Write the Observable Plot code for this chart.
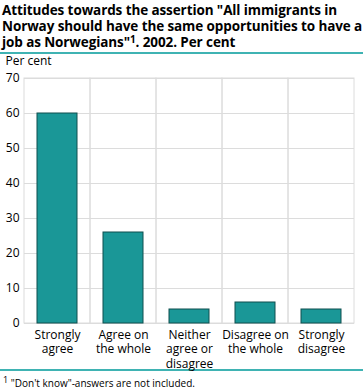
<!DOCTYPE html>
<html>
<head>
<meta charset="utf-8">
<script src="https://cdn.jsdelivr.net/npm/d3@7"></script>
<script src="https://cdn.jsdelivr.net/npm/@observablehq/plot@0.6"></script>
<style>
  body { margin: 0; background: #fff; font-family: "Open Sans", sans-serif; }
  #wrap { width: 363px; position: relative; }
  #title { font-weight: bold; font-size: 13.5px; line-height: 16px; color: #000; padding: 2px 0 2px 2px; height: 48px; border-bottom: 2px solid #3fb3b3; box-sizing: content-box; letter-spacing: -0.1px; }
  #title sup { font-size: 10px; line-height: 0; vertical-align: 4px; }
  #foot { border-top: 2px solid #3fb3b3; font-size: 10px; color: #000; padding: 2px 0 0 3px; }
  #foot sup { font-size: 9px; }
  svg { display: block; }
</style>
</head>
<body>
<div id="wrap">
  <div id="title">Attitudes towards the assertion "All immigrants in<br>Norway should have the same opportunities to have a<br>job as Norwegians"<sup>1</sup>. 2002. Per cent</div>
  <div id="chart"></div>
  <div id="foot"><sup>1</sup> "Don't know"-answers are not included.</div>
</div>
<script>
const categories = ["Strongly\nagree", "Agree on\nthe whole", "Neither\nagree or\ndisagree", "Disagree on\nthe whole", "Strongly\ndisagree"];
const values = [60, 26, 4, 6, 4];
const yTicks = [0, 10, 20, 30, 40, 50, 60, 70];

const data = categories.map((c, i) => ({category: c, value: values[i]}));

const chart = Plot.plot({
  width: 363,
  height: 315,
  marginTop: 24,
  marginLeft: 24,
  marginRight: 9,
  marginBottom: 46,
  style: { fontFamily: "Open Sans, sans-serif", fontSize: "12px", color: "#000", overflow: "visible" },
  x: { domain: categories, padding: 0, label: null },
  y: { domain: [0, 70], ticks: yTicks, label: null },
  marks: [
    Plot.ruleY(yTicks, { stroke: "#dcdcdc", strokeWidth: 1 }),
    Plot.cell(categories, { x: d => d, fill: "none", stroke: "#dcdcdc", strokeWidth: 1 }),
    Plot.barY(data, { x: "category", y: "value", fill: "#1a9797", stroke: "#0f4f4f", strokeWidth: 1, insetLeft: 13, insetRight: 13 }),
    Plot.axisY({ ticks: yTicks, tickSize: 0, tickPadding: 5, fontSize: 12, label: null }),
    Plot.axisX({ tickSize: 0, tickPadding: 5, fontSize: 12, lineHeight: 1.2, label: null }),
    Plot.text(["Per cent"], { frameAnchor: "top-left", dx: -19, dy: -22, textAnchor: "start", fontSize: 12 })
  ]
});
document.getElementById("chart").appendChild(chart);
</script>
</body>
</html>
